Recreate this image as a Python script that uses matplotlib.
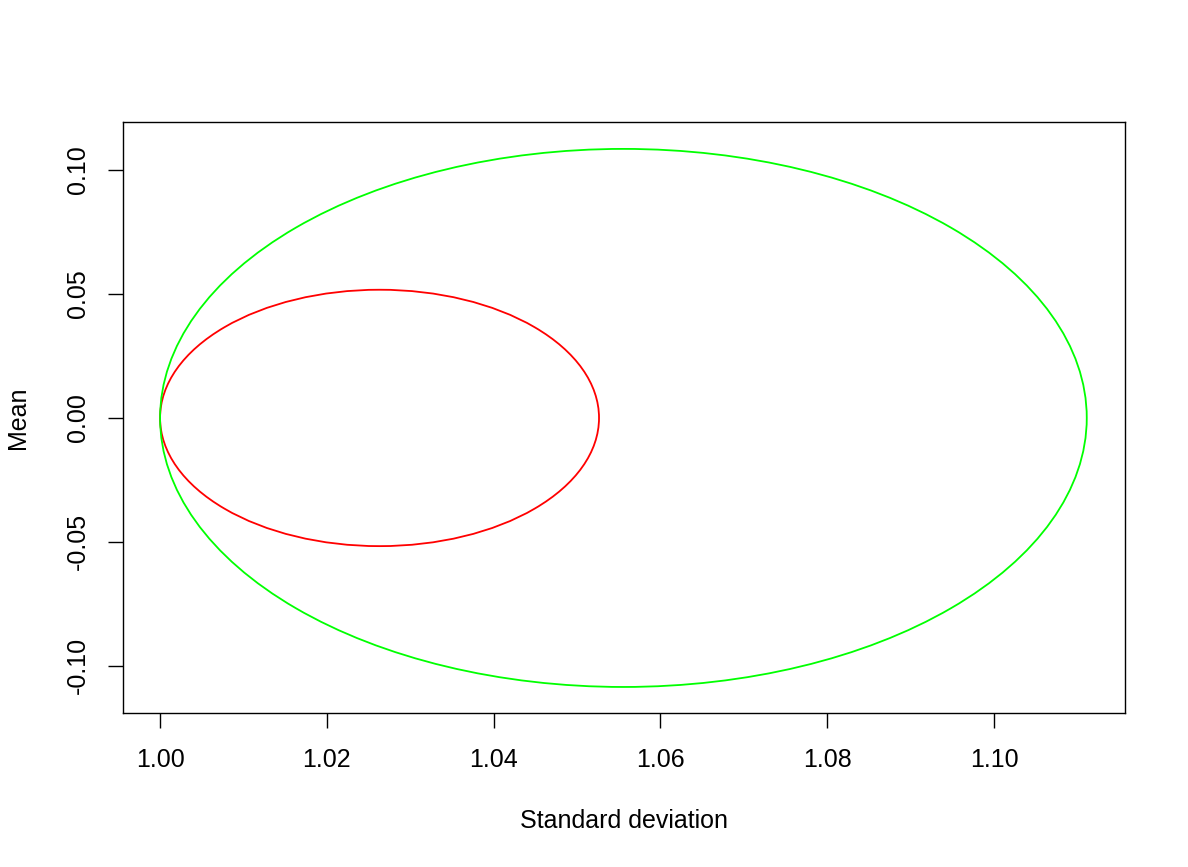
import matplotlib
matplotlib.use("Agg")
import matplotlib.pyplot as plt
from matplotlib.patches import Ellipse

# ellipses: centre (sd, mean), full width along sd, full height along mean
names = ["inner", "outer"]
centre_sd = [1.02632, 1.05556]
centre_mean = [0.0, 0.0]
width_sd = [0.05263, 0.11111]
height_mean = [0.1034, 0.2170]
colours = ["#ff0000", "#00ff00"]

x_ticks = [1.00, 1.02, 1.04, 1.06, 1.08, 1.10]
y_ticks = [-0.10, -0.05, 0.00, 0.05, 0.10]

plt.rcParams['font.family'] = ['Liberation Sans', 'DejaVu Sans']

fig = plt.figure(figsize=(11.88, 8.67), dpi=100)
ax = fig.add_axes([123 / 1188, 1 - 713 / 867, (1125 - 123) / 1188, (713 - 122) / 867])

for cx, cy, w, h, c in zip(centre_sd, centre_mean, width_sd, height_mean, colours):
    ax.add_patch(Ellipse((cx, cy), w, h, fill=False, edgecolor=c, linewidth=1.3))

ax.set_xlim(0.99556, 1.1157)
ax.set_ylim(-0.1190, 0.11935)

ax.set_xticks(x_ticks)
ax.set_xticklabels([f"{v:.2f}" for v in x_ticks])
ax.set_yticks(y_ticks)
ax.set_yticklabels([f"{v:.2f}".replace("-0.00", "0.00") for v in y_ticks], rotation=90, va="center")

ax.tick_params(axis="both", length=11, width=1, labelsize=18, direction="out")
ax.tick_params(axis="x", pad=14)
ax.tick_params(axis="y", pad=13)
for s in ax.spines.values():
    s.set_linewidth(1)

ax.set_xlabel("Standard deviation", fontsize=18, labelpad=27)
ax.set_ylabel("Mean", fontsize=18, labelpad=26)

fig.savefig("out.png", dpi=100)
